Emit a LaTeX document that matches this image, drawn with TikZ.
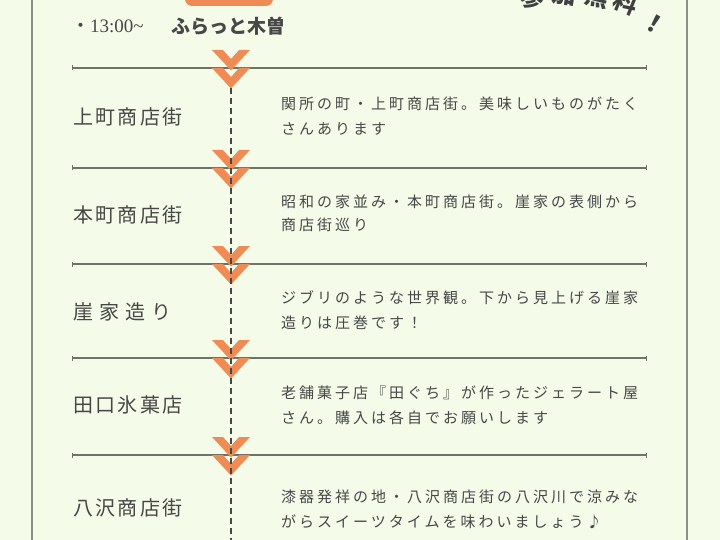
\documentclass[tikz,border=0pt]{standalone}
\usepackage{fontspec}
\setmainfont{Liberation Serif}
\newfontfamily\jp{Noto Sans CJK JP}
\newfontfamily\jpsp[LetterSpace=20]{Noto Sans CJK JP}
\newfontfamily\jplab[LetterSpace=12]{Noto Sans CJK JP}
\usetikzlibrary{arrows.meta}
\definecolor{bg}{HTML}{F4FBE9}
\definecolor{org}{HTML}{EF8B55}
\definecolor{ink}{HTML}{474747}
\definecolor{rulec}{HTML}{6E7366}
\definecolor{framec}{HTML}{8B9183}
\begin{document}
\begin{tikzpicture}[x=1pt,y=-1pt,
  hline/.style={draw=rulec, line width=1.5pt, {Bar[width=5pt,line width=1.2pt]}-{Bar[width=5pt,line width=1.2pt]}},
  frameline/.style={draw=framec, line width=2pt},
  dashline/.style={draw=ink, line width=2.4pt, dash pattern=on 6pt off 4pt},
  chev/.pic={\fill[org] (-19,0) -- (-8,0) -- (0,9) -- (8,0) -- (19,0) -- (0,20.5) -- cycle;},
  lab/.style={anchor=west, inner sep=0pt, text=ink, font=\jplab\fontsize{20}{20}\selectfont},
  desc/.style={anchor=west, inner sep=0pt, text=ink, font=\jpsp\fontsize{15}{15}\selectfont},
  stamp/.style={text=ink!90!black, font=\jp\bfseries\fontsize{24}{24}\selectfont, inner sep=0pt}
]
\useasboundingbox (0,0) rectangle (720,540);
\fill[bg] (0,0) rectangle (720,540);
% frame
\coordinate (fl1) at (32,0); \coordinate (fl2) at (32,540);
\coordinate (fr1) at (687,0); \coordinate (fr2) at (687,540);
\draw[frameline] (fl1) -- (fl2);
\draw[frameline] (fr1) -- (fr2);
% top orange tab
\fill[org, rounded corners=7pt] (185,-12) rectangle (273,6);
% stamp text
\node[stamp, rotate=-5] (s1) at (532,-3) {参};
\node[stamp, rotate=-9] (s2) at (565,-5) {加};
\node[stamp, rotate=-14] (s3) at (597,-3) {無};
\node[stamp, rotate=-22] (s4) at (626,3) {料};
\node[stamp, rotate=-30] (s5) at (654,24) {！};
% header
\node[anchor=west, inner sep=0pt, text=ink, font=\fontsize{19}{19}\selectfont] (time) at (71,26) {{\jp ・}13:00\textasciitilde};
\node[anchor=west, inner sep=0pt, text=ink, font=\jp\bfseries\fontsize{19}{19}\selectfont] (start) at (171,26) {ふらっと木曽};
% horizontal rules
\foreach \y [count=\i] in {68,168,264,358,455}{
  \coordinate (hl\i) at (72,\y);
  \coordinate (hr\i) at (647,\y);
  \draw[hline] (hl\i) -- (hr\i);
}
% chevrons
\foreach \y in {68,168,264,358,455}{
  \pic at (231,\y-18) {chev};
  \pic at (231,\y) {chev};
}
% dashed route
\coordinate (d1) at (231,88);
\coordinate (d2) at (231,540);
\draw[dashline] (d1) -- (d2);
% labels
\node[lab] (l1) at (73,117) {上町商店街};
\node[lab] (l2) at (73,215) {本町商店街};
\node[lab] (l3) at (73,312) {崖\hspace{6pt}家\hspace{6pt}造\hspace{6pt}り};
\node[lab] (l4) at (73,405) {田口氷菓店};
\node[lab] (l5) at (73,508) {八沢商店街};
% descriptions
\node[desc] (a1) at (281,104) {関所の町・上町商店街。美味しいものがたく};
\node[desc] (b1) at (281,129) {さんあります};
\node[desc] (a2) at (281,202) {昭和の家並み・本町商店街。崖家の表側から};
\node[desc] (b2) at (281,225) {商店街巡り};
\node[desc] (a3) at (281,298) {ジブリのような世界観。下から見上げる崖家};
\node[desc] (b3) at (281,323) {造りは圧巻です！};
\node[desc] (a4) at (281,393) {老舗菓子店『田ぐち』が作ったジェラート屋};
\node[desc] (b4) at (281,418) {さん。購入は各自でお願いします};
\node[desc] (a5) at (281,497) {漆器発祥の地・八沢商店街の八沢川で涼みな};
\node[desc] (b5) at (281,522) {がらスイーツタイムを味わいましょう♪};
\end{tikzpicture}
\end{document}
